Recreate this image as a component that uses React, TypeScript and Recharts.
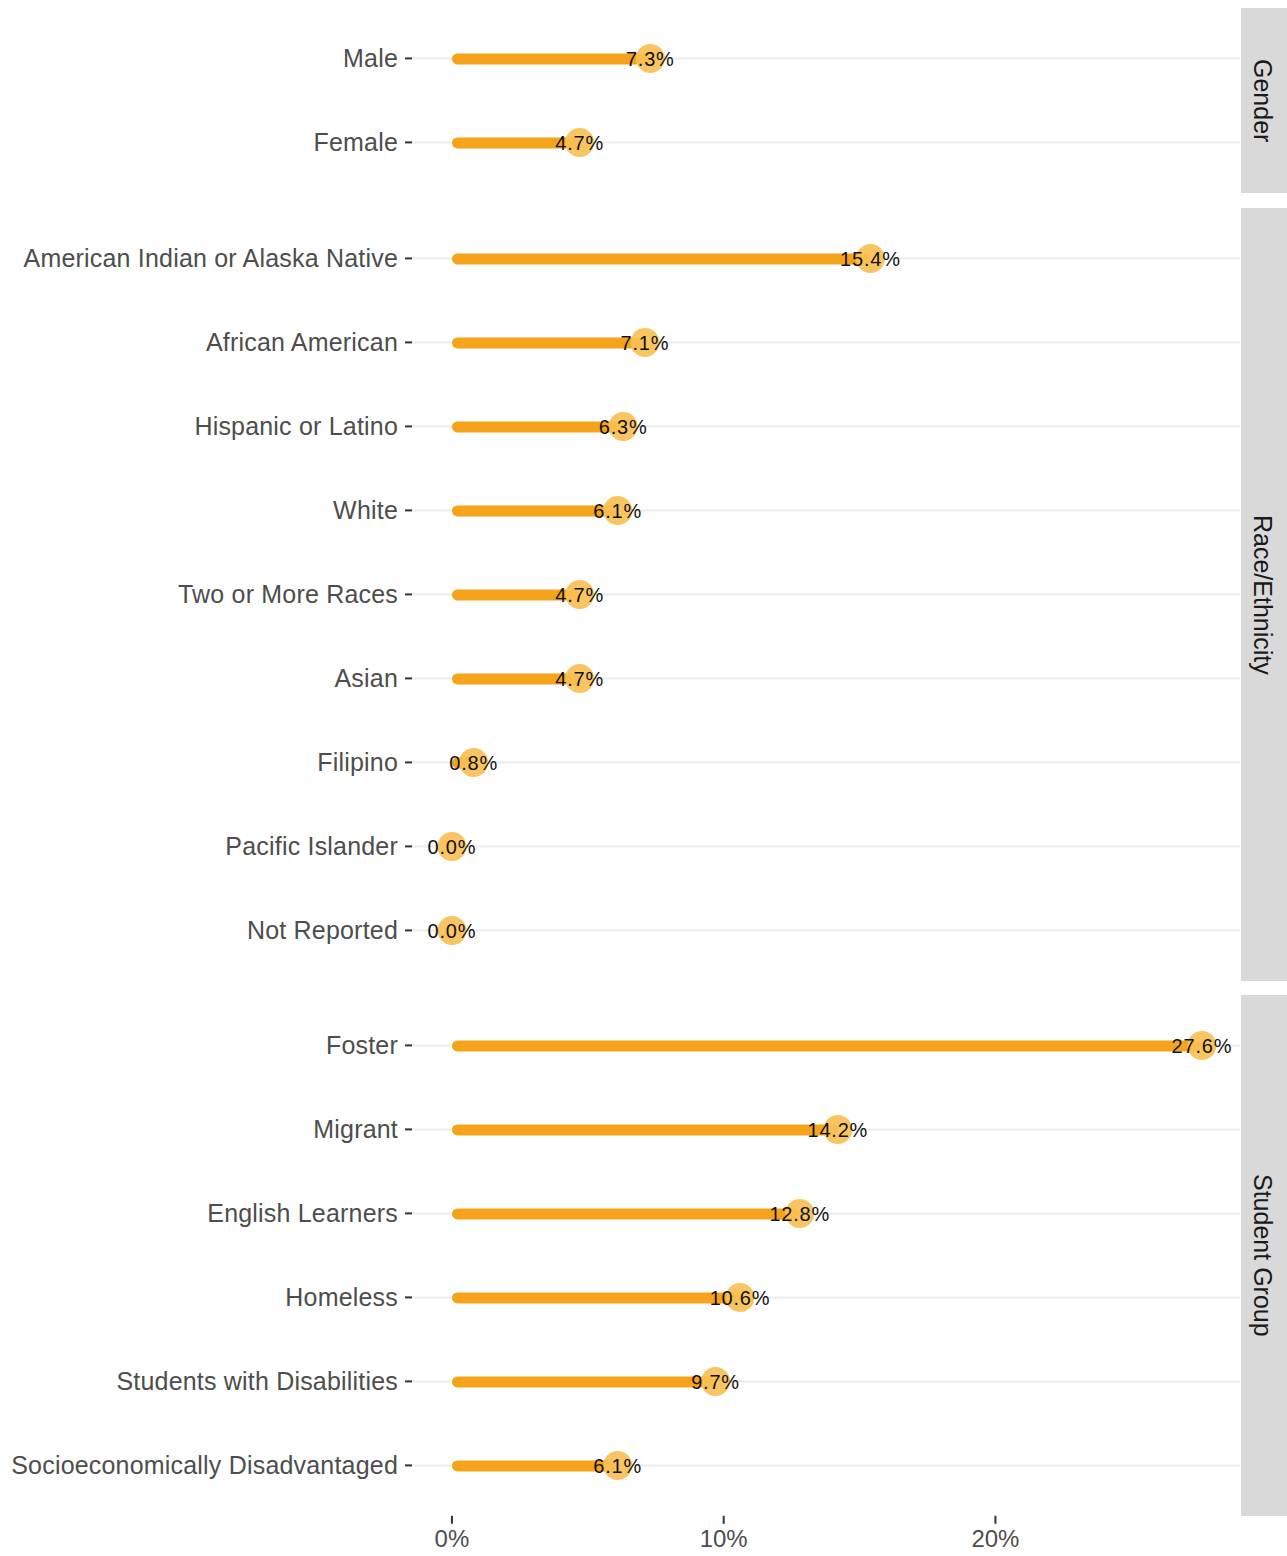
import React from 'react';
import { ComposedChart, Bar, Line, XAxis, YAxis, ReferenceLine } from 'recharts';

const FONT = '"Liberation Sans", Arial, Helvetica, sans-serif';
const BAR = '#f5a31a';
const DOT = '#f8c055';
const AXIS_TEXT = '#4d4d4d';

const genderLabels = ['Male', 'Female'];
const genderValues = [7.3, 4.7];

const raceLabels = [
  'American Indian or Alaska Native',
  'African American',
  'Hispanic or Latino',
  'White',
  'Two or More Races',
  'Asian',
  'Filipino',
  'Pacific Islander',
  'Not Reported',
];
const raceValues = [15.4, 7.1, 6.3, 6.1, 4.7, 4.7, 0.8, 0.0, 0.0];

const groupLabels = [
  'Foster',
  'Migrant',
  'English Learners',
  'Homeless',
  'Students with Disabilities',
  'Socioeconomically Disadvantaged',
];
const groupValues = [27.6, 14.2, 12.8, 10.6, 9.7, 6.1];

const xTicks = [0, 10, 20];
const xDomain = [-1.47, 29.0];

const ROW = 84;
const CHART_W = 1240;
const AXIS_W = 412;

const facets = [
  { strip: 'Gender', labels: genderLabels, values: genderValues, top: 8 },
  { strip: 'Race/Ethnicity', labels: raceLabels, values: raceValues, top: 208 },
  { strip: 'Student Group', labels: groupLabels, values: groupValues, top: 995 },
];

const YTick = (props: any) => {
  const { x, y, payload } = props;
  return (
    <text
      x={x}
      y={y}
      textAnchor="end"
      dominantBaseline="central"
      fontFamily={FONT}
      fontSize={25}
      letterSpacing={0.2}
      fill={AXIS_TEXT}
    >
      {payload.value}
    </text>
  );
};

const XTick = (props: any) => {
  const { x, y, payload } = props;
  return (
    <text x={x} y={y + 12} textAnchor="middle" dominantBaseline="central" fontFamily={FONT} fontSize={24} fill={AXIS_TEXT}>
      {`${payload.value}%`}
    </text>
  );
};

const Lolli = (props: any) => {
  const { cx, cy, payload } = props;
  if (cx == null || cy == null) return null;
  return (
    <g key={`dot-${payload.name}`}>
      <circle cx={cx} cy={cy} r={14.5} fill={DOT} fillOpacity={0.92} />
      <text
        x={cx}
        y={cy + 1}
        textAnchor="middle"
        dominantBaseline="central"
        fontFamily={FONT}
        fontSize={20}
        letterSpacing={0.8}
        fill="#111"
      >
        {`${payload.value.toFixed(1)}%`}
      </text>
    </g>
  );
};

function Facet({ strip, labels, values, top, last }: any) {
  const data = labels.map((name: string, i: number) => ({ name, value: values[i] }));
  const panelH = (labels.length + 0.2) * ROW;
  const pad = 0.1 * ROW;
  const axisH = last ? 44 : 0;
  return (
    <>
      <div style={{ position: 'absolute', left: 0, top }}>
        <ComposedChart
          layout="vertical"
          width={CHART_W}
          height={panelH + axisH}
          data={data}
          margin={{ top: 0, right: 0, bottom: 0, left: 0 }}
        >
          <XAxis
            type="number"
            domain={xDomain}
            allowDataOverflow
            ticks={xTicks}
            hide={!last}
            height={axisH}
            axisLine={false}
            tickSize={8}
            tickMargin={3}
            tickLine={{ stroke: '#333', strokeWidth: 2 }}
            tick={<XTick />}
          />
          <YAxis
            type="category"
            dataKey="name"
            width={AXIS_W}
            padding={{ top: pad, bottom: pad }}
            axisLine={false}
            tickSize={7}
            tickMargin={7}
            tickLine={{ stroke: '#333', strokeWidth: 2 }}
            tick={<YTick />}
            interval={0}
          />
          {labels.map((name: string) => (
            <ReferenceLine key={name} y={name} stroke="#ebebeb" strokeWidth={2} zIndex={-100} />
          ))}
          <Bar dataKey="value" fill={BAR} barSize={11} radius={5.5} isAnimationActive={false} />
          <Line dataKey="value" stroke="none" dot={<Lolli />} activeDot={false} isAnimationActive={false} />
        </ComposedChart>
      </div>
      <div
        style={{
          position: 'absolute',
          left: 1241,
          top,
          width: 46,
          height: panelH,
          background: '#d9d9d9',
          display: 'flex',
          alignItems: 'center',
          justifyContent: 'center',
        }}
      >
        <span style={{ writingMode: 'vertical-rl', fontFamily: FONT, fontSize: 25, color: '#1a1a1a', marginRight: 4 }}>
          {strip}
        </span>
      </div>
    </>
  );
}

export default function App() {
  return (
    <div style={{ position: 'absolute', left: 0, top: 0, width: 1287, height: 1556, overflow: 'hidden', background: '#fff' }}>
      {facets.map((f, i) => (
        <Facet key={f.strip} {...f} last={i === facets.length - 1} />
      ))}
    </div>
  );
}
